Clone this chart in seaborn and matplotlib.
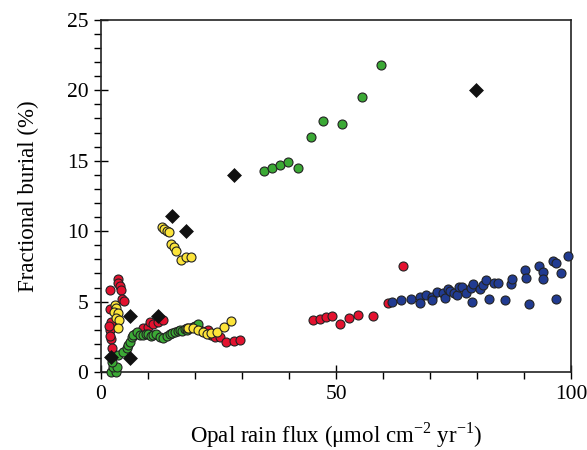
import numpy as np
import pandas as pd
import seaborn as sns
import matplotlib.pyplot as plt
from matplotlib.ticker import MultipleLocator

# --- data (opal rain flux vs fractional burial) ---
red_x = [3.55, 3.7, 4.0, 4.26, 1.9, 4.4, 4.96, 1.9, 2.1, 1.9, 2.1, 2.4, 1.8, 2.0,
         9.0, 10.1, 10.4, 11.1, 12.2, 13.3, 21.5, 22.8, 23.5, 24.3, 25.3, 26.6, 28.2, 29.6,
         45.0, 46.5, 47.8, 49.2, 50.8, 52.8, 54.7, 57.9, 61.1, 64.3]
red_y = [6.58, 6.35, 6.1, 5.82, 5.82, 5.16, 5.06, 4.5, 3.57, 2.98, 2.34, 1.68, 3.3, 2.6,
         3.1, 3.17, 3.57, 3.45, 3.57, 3.69, 2.9, 2.98, 2.63, 2.5, 2.46, 2.15, 2.22, 2.27,
         3.69, 3.79, 3.88, 3.98, 3.45, 3.83, 4.03, 3.98, 4.92, 7.55]

green_x = [2.1, 3.1, 2.6, 3.5, 2.3, 3.7, 4.7, 5.5, 5.8, 6.2, 6.5, 7.2,
           6.9, 7.6, 8.3, 9.0, 9.6, 10.1, 10.6, 11.1, 11.8, 12.6, 13.3, 14.0, 14.7,
           15.2, 15.7, 16.3, 16.8, 17.3, 17.9, 18.4, 18.9, 19.5, 20.0, 20.6,
           34.7, 36.4, 38.1, 39.8, 41.9, 44.7, 47.2, 51.3, 55.5, 59.6]
green_y = [0.02, 0.0, 0.38, 0.38, 0.73, 1.2, 1.44, 1.68, 1.92, 2.15, 2.5, 2.74,
           2.63, 2.86, 2.63, 2.63, 2.7, 2.74, 2.6, 2.67, 2.74, 2.5, 2.44, 2.56, 2.74,
           2.8, 2.86, 2.9, 2.98, 2.95, 3.03, 3.0, 3.1, 3.2, 3.27, 3.45,
           14.3, 14.5, 14.7, 14.9, 14.5, 16.7, 17.8, 17.6, 19.5, 21.8]

yellow_x = [12.9, 13.5, 14.0, 14.5, 14.9, 15.5, 16.0, 17.0, 18.0, 19.1,
            3.0, 3.3, 2.8, 3.7, 3.1, 3.8, 3.7,
            18.2, 18.6, 19.6, 20.7, 21.6, 22.5, 23.5, 24.6, 26.2, 27.6]
yellow_y = [10.32, 10.16, 10.04, 9.97, 9.07, 8.9, 8.59, 7.95, 8.14, 8.19,
            4.76, 4.52, 4.28, 4.17, 3.81, 3.69, 3.1,
            3.1, 3.1, 3.1, 2.98, 2.86, 2.74, 2.79, 2.86, 3.22, 3.64]

blue_x = [61.8, 63.8, 65.9, 67.9, 67.9, 69.1, 70.4, 70.4, 71.4, 72.7, 73.1, 73.8,
          74.3, 75.0, 75.8, 76.1, 76.8, 77.7, 78.7, 79.0, 79.2, 80.6, 81.2, 81.8,
          82.5, 83.5, 84.5, 86.0, 87.2, 87.4, 90.1, 90.5, 91.1, 93.2, 94.0, 94.0,
          96.2, 96.8, 96.7, 97.8, 99.4]
blue_y = [4.95, 5.09, 5.21, 5.35, 4.92, 5.49, 5.35, 5.09, 5.70, 5.59, 5.28, 5.87,
          5.77, 5.63, 5.49, 6.06, 6.01, 5.59, 5.94, 4.97, 6.27, 5.87, 6.18, 6.53,
          5.21, 6.30, 6.34, 5.14, 6.25, 6.61, 7.24, 6.68, 4.81, 7.55, 7.12, 6.58,
          7.88, 7.76, 5.18, 7.03, 8.22]

diamond_x = [2.1, 6.2, 6.2, 12.1, 15.1, 18.1, 28.2, 79.8]
diamond_y = [1.05, 1.0, 4.0, 4.0, 11.05, 10.05, 14.0, 20.0]

groups = ["red", "green", "yellow", "blue"]
xs = [red_x, green_x, yellow_x, blue_x]
ys = [red_y, green_y, yellow_y, blue_y]
df = pd.concat([pd.DataFrame({"flux": x, "burial": y, "group": g})
                for g, x, y in zip(groups, xs, ys)], ignore_index=True)
dia = pd.DataFrame({"flux": diamond_x, "burial": diamond_y})

palette = {"red": "#E3122F", "green": "#3BA935", "yellow": "#FCE43A", "blue": "#213B91"}

plt.rcParams["font.family"] = ["Liberation Serif", "DejaVu Serif"]
plt.rcParams["mathtext.fontset"] = "custom"
plt.rcParams["mathtext.rm"] = "Liberation Serif"
fig = plt.figure(figsize=(5.87, 4.5), dpi=100)
ax = fig.add_axes([0.172, 0.173, 0.801, 0.783])

for g in groups:
    sns.scatterplot(data=df[df["group"] == g], x="flux", y="burial", color=palette[g],
                    s=42, edgecolor="#222222", linewidth=0.8, clip_on=False,
                    legend=False, ax=ax, zorder=3)
sns.scatterplot(data=dia, x="flux", y="burial", marker="D", color="#111111",
                s=50, edgecolor="#111111", linewidth=0.5, clip_on=False,
                legend=False, ax=ax, zorder=4)

ax.set_xlim(0, 100)
ax.set_ylim(0, 25)
ax.xaxis.set_major_locator(MultipleLocator(50))
ax.xaxis.set_minor_locator(MultipleLocator(10))
ax.yaxis.set_major_locator(MultipleLocator(5))
ax.yaxis.set_minor_locator(MultipleLocator(1))
ax.tick_params(which="major", direction="inout", length=10, width=1, labelsize=15.5, pad=4)
ax.tick_params(which="minor", direction="out", length=5, width=1)
for sp in ax.spines.values():
    sp.set_linewidth(1.2)
    sp.set_color("#222222")

ax.set_xlabel("Opal rain flux (\u03bcmol cm$^{\\mathregular{-2}}$ yr$^{\\mathregular{-1}}$)",
              fontsize=16.5, labelpad=12)
ax.set_ylabel("Fractional burial (%)", fontsize=16.5, labelpad=20)

fig.savefig("out.png", dpi=100)
